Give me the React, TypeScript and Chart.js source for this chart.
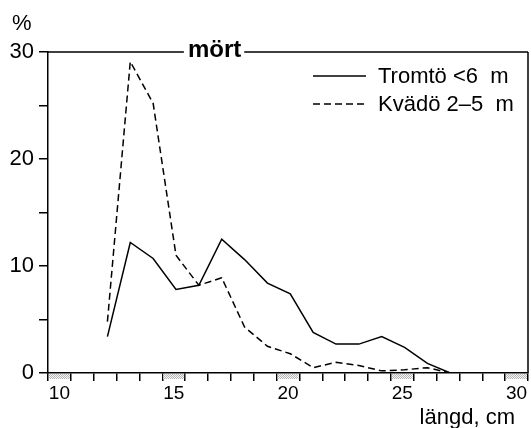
import React, { useEffect, useRef } from 'react';
import { Chart, registerables } from 'chart.js';

Chart.register(...registerables);

// ---- data ----
const binLabels = ['10', '11', '12', '13', '14', '15', '16', '17', '18', '19', '20', '21', '22', '23', '24', '25', '26', '27', '28', '29', '30'];
const shownBinLabels = ['10', '15', '20', '25', '30'];
const hatchedBins = ['10', '15', '20', '25', '30'];
const lengths = [12, 13, 14, 15, 16, 17, 18, 19, 20, 21, 22, 23, 24, 25, 26, 27];
const tromto = [3.4, 12.2, 10.7, 7.8, 8.2, 12.5, 10.6, 8.4, 7.4, 3.8, 2.7, 2.7, 3.4, 2.4, 0.9, 0];
const kvado = [4.8, 29.1, 25.2, 11.0, 8.2, 8.9, 4.3, 2.5, 1.8, 0.5, 1.0, 0.7, 0.2, 0.3, 0.5, 0];
const seriesNames = ['Tromtö <6  m', 'Kvädö 2–5  m'];
const yTicksLabelled = [0, 10, 20, 30];
const title = 'mört';
const yUnit = '%';
const xTitle = 'längd, cm';

const FONT = '"Liberation Sans", Arial, Helvetica, sans-serif';

function makePattern(ctx: CanvasRenderingContext2D) {
  const c = document.createElement('canvas');
  c.width = 2;
  c.height = 2;
  const p = c.getContext('2d')!;
  p.fillStyle = '#f4f4f4';
  p.fillRect(0, 0, 2, 2);
  p.fillStyle = '#b8b8b8';
  p.fillRect(0, 0, 1, 1);
  p.fillRect(1, 1, 1, 1);
  return ctx.createPattern(c, 'repeat');
}

const framePlugin = {
  id: 'framePlugin',
  afterDraw(chart: any) {
    const { ctx, chartArea: a } = chart;
    const xb = chart.scales.xb;
    ctx.save();

    // hatched bins under the x axis
    const pat = makePattern(ctx);
    const half = (xb.getPixelForValue(1) - xb.getPixelForValue(0)) / 2;
    hatchedBins.forEach((l) => {
      const i = binLabels.indexOf(l);
      const c = xb.getPixelForValue(i);
      if (pat) ctx.fillStyle = pat;
      ctx.fillRect(c - half + 1, a.bottom + 1, 2 * half - 2, 5);
    });

    // frame: top line with title gap, right line
    ctx.strokeStyle = '#000';
    ctx.lineWidth = 1.5;
    ctx.font = `bold 24px ${FONT}`;
    const tw = ctx.measureText(title).width;
    const tx = a.left + (a.right - a.left) * 0.347;
    ctx.beginPath();
    ctx.moveTo(a.left, a.top);
    ctx.lineTo(tx - tw / 2 - 4, a.top);
    ctx.moveTo(tx + tw / 2 + 3, a.top);
    ctx.lineTo(a.right, a.top);
    ctx.moveTo(a.right, a.top);
    ctx.lineTo(a.right, a.bottom);
    ctx.stroke();

    ctx.fillStyle = '#000';
    ctx.textAlign = 'center';
    ctx.textBaseline = 'alphabetic';
    ctx.fillText(title, tx, a.top + 5);

    // legend
    ctx.font = `22px ${FONT}`;
    ctx.textAlign = 'left';
    ctx.textBaseline = 'middle';
    chart.data.datasets.forEach((ds: any, i: number) => {
      const y = a.top + 24 + i * 28;
      ctx.save();
      ctx.strokeStyle = ds.borderColor;
      ctx.lineWidth = ds.borderWidth;
      ctx.setLineDash(ds.borderDash || []);
      ctx.beginPath();
      ctx.moveTo(a.right - 215, y);
      ctx.lineTo(a.right - 162, y);
      ctx.stroke();
      ctx.restore();
      ctx.fillText(ds.label, a.right - 150, y + 1);
    });

    // axis titles
    ctx.textBaseline = 'alphabetic';
    ctx.textAlign = 'left';
    ctx.fillText(yUnit, 12, 30);
    ctx.textAlign = 'right';
    ctx.fillText(xTitle, a.right - 13, 424);

    ctx.restore();
  },
};

export default function App() {
  const ref = useRef<HTMLCanvasElement>(null);
  useEffect(() => {
    if (!ref.current) return;
    const chart = new Chart(ref.current, {
      type: 'line',
      data: {
        datasets: [
          {
            label: seriesNames[0],
            data: lengths.map((x, i) => ({ x, y: tromto[i] })),
            borderColor: '#000',
            borderWidth: 1.5,
            pointRadius: 0,
            tension: 0,
            fill: false,
            xAxisID: 'x',
            yAxisID: 'y',
          },
          {
            label: seriesNames[1],
            data: lengths.map((x, i) => ({ x, y: kvado[i] })),
            borderColor: '#000',
            borderWidth: 1.5,
            borderDash: [7, 4],
            pointRadius: 0,
            tension: 0,
            fill: false,
            xAxisID: 'x',
            yAxisID: 'y',
          },
        ],
      },
      options: {
        animation: false,
        responsive: false,
        events: [],
        layout: { padding: { top: 52, right: 3, left: 0, bottom: 0 } },
        plugins: { legend: { display: false }, tooltip: { enabled: false }, title: { display: false } },
        scales: {
          x: {
            type: 'linear',
            display: false,
            min: 9.4,
            max: 30.4,
          },
          xb: {
            type: 'category',
            position: 'bottom',
            labels: binLabels,
            offset: true,
            grid: {
              offset: true,
              drawOnChartArea: false,
              drawTicks: true,
              tickLength: 8,
              color: '#000',
              lineWidth: 1.5,
            },
            border: { display: true, color: '#000', width: 1.5 },
            ticks: {
              autoSkip: false,
              maxRotation: 0,
              minRotation: 0,
              padding: 1,
              color: '#000',
              font: { family: FONT, size: 19 },
              callback: (_v: any, i: number) => (shownBinLabels.includes(binLabels[i]) ? binLabels[i] : ''),
            },
            afterFit: (s: any) => {
              s.height = 55;
            },
          },
          y: {
            type: 'linear',
            min: 0,
            max: 30,
            grid: {
              drawOnChartArea: false,
              drawTicks: true,
              tickLength: 9,
              color: '#000',
              lineWidth: 1.5,
            },
            border: { display: true, color: '#000', width: 1.5 },
            ticks: {
              stepSize: 5,
              padding: 5,
              color: '#000',
              font: { family: FONT, size: 22 },
              callback: (v: any) => (yTicksLabelled.includes(Number(v)) ? String(v) : ''),
            },
            afterFit: (s: any) => {
              s.width = 48;
            },
          },
        },
      },
      plugins: [framePlugin],
    });
    return () => chart.destroy();
  }, []);
  return (
    <div style={{ position: 'fixed', left: 0, top: 0, width: 531, height: 428, background: '#fff' }}>
      <canvas ref={ref} width={531} height={428} style={{ display: 'block', width: 531, height: 428 }} />
    </div>
  );
}
